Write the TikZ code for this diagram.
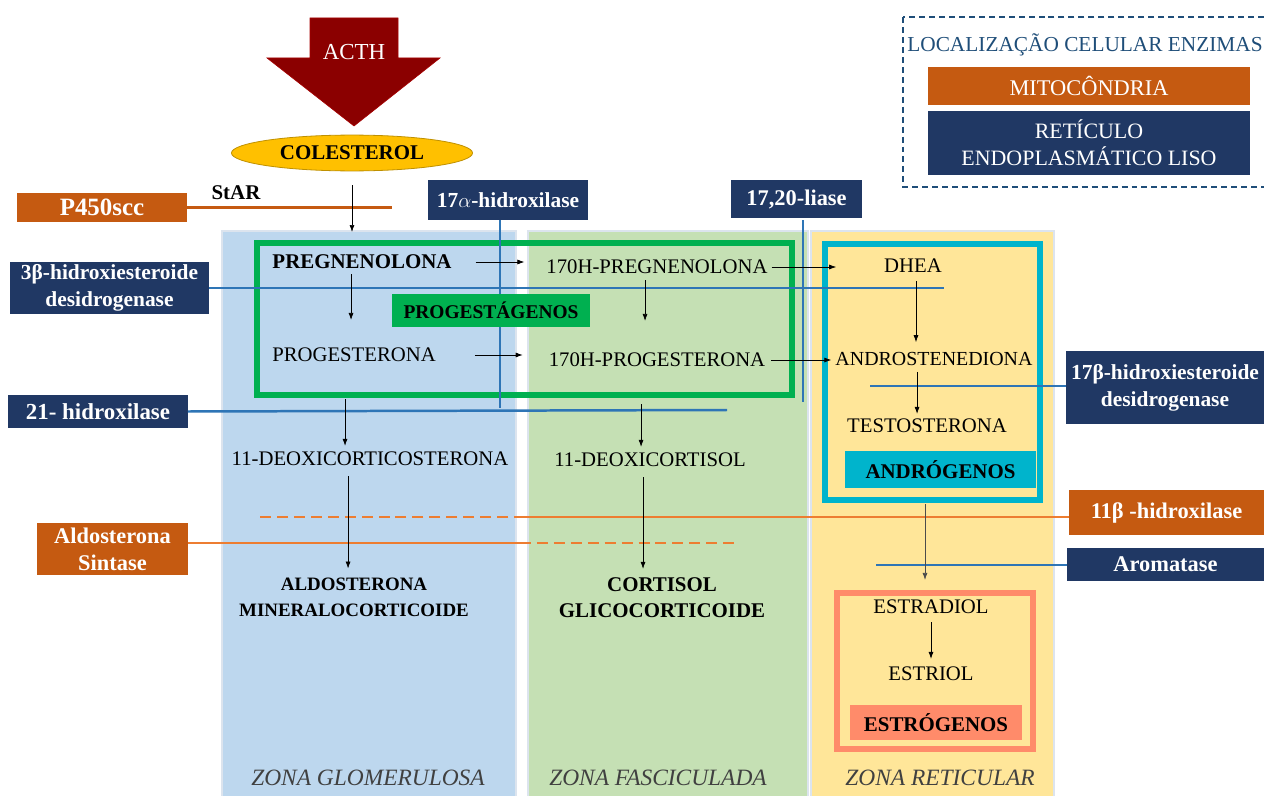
\documentclass[tikz,border=0pt]{standalone}
\usepackage{fontspec}
\setmainfont{Liberation Serif}
\usetikzlibrary{arrows.meta,shapes.geometric}

\definecolor{navyc}{HTML}{203864}
\definecolor{orgc}{HTML}{C55A11}
\definecolor{lineblue}{HTML}{2E75B6}
\definecolor{lineorange}{HTML}{ED7D31}
\definecolor{progc}{HTML}{00B050}
\definecolor{androc}{HTML}{00B4CC}
\definecolor{estroc}{HTML}{FF8B6A}
\definecolor{zoneblue}{HTML}{BDD7EE}
\definecolor{zonegreen}{HTML}{C5E0B4}
\definecolor{zoneyellow}{HTML}{FFE699}
\definecolor{zoneedge}{HTML}{DCE4EE}
\definecolor{acthred}{HTML}{8B0000}
\definecolor{gold}{HTML}{FFC000}
\definecolor{legendc}{HTML}{1F4E79}
\definecolor{zonetext}{HTML}{404040}

\tikzset{
  enz/.style={rectangle, fill=navyc, text=white, inner sep=0pt, align=center,
    font=\fontsize{21.5}{27}\selectfont\bfseries},
  mito/.style={enz, fill=orgc},
  hor/.style={inner sep=2pt, text=black, align=center,
    font=\fontsize{20.8}{24}\selectfont},
  horb/.style={hor, font=\fontsize{20}{26}\selectfont\bfseries},
  arr/.style={-{Latex[length=7pt,width=5pt]}, line width=0.7pt, draw=black},
  bline/.style={draw=lineblue, line width=2.5pt},
  oline/.style={draw=lineorange, line width=2.5pt},
  odash/.style={oline, dash pattern=on 11pt off 6pt},
  tag/.style={rectangle, inner sep=0pt, text=black,
    font=\fontsize{21}{24}\selectfont\bfseries},
  zonelab/.style={text=zonetext, font=\fontsize{23.5}{26}\selectfont\itshape},
  zone/.style={draw=zoneedge, line width=1.5pt}
}

\begin{document}
\begin{tikzpicture}[x=1bp,y=-1bp]
\useasboundingbox (0,0) rectangle (1264,796);

% adrenal cortex zones
\filldraw[zone, fill=zoneblue]   (222,231) rectangle (516,800);
\filldraw[zone, fill=zonegreen]  (528,231) rectangle (808,800);
\filldraw[zone, fill=zoneyellow] (811,231) rectangle (1054,800);

% hormone-class frames
\draw[progc, line width=6pt]  (257,243) rectangle (792,395);
\draw[androc, line width=6pt] (825,244) rectangle (1040,500);
\draw[estroc, line width=6pt] (837,593) rectangle (1033,749);
\coordinate (androbot) at (925,504);

% ACTH stimulus arrow
\filldraw[fill=acthred, draw=red!65!black, line width=0.6pt]
  (310,18) -- (398,18) -- (398,58) -- (440,58) -- (354,126) -- (267,58) -- (310,58) -- cycle;
\node[text=white, font=\fontsize{23}{26}\selectfont] (acth) at (354,52) {ACTH};

\node[ellipse, fill=gold, draw=gold!75!black, line width=0.8pt,
  minimum width=242, minimum height=36, inner sep=0pt,
  font=\fontsize{21}{24}\selectfont\bfseries] (col) at (352,153) {COLESTEROL};

% steroids
\node[horb, font=\fontsize{21}{24}\selectfont\bfseries] (preg) at (362,262) {PREGNENOLONA};
\node[hor]  (ohpreg) at (657,267) {170H-PREGNENOLONA};
\node[hor]  (dhea)   at (913,266) {DHEA};
\node[hor]  (prog)   at (354,355) {PROGESTERONA};
\node[hor]  (ohprog) at (657,360) {170H-PROGESTERONA};
\node[hor, font=\fontsize{20}{24}\selectfont] (andro) at (934,359) {ANDROSTENEDIONA};
\node[hor]  (testo)  at (927,426) {TESTOSTERONA};
\node[hor]  (doc)    at (370,459) {11-DEOXICORTICOSTERONA};
\node[hor]  (dcort)  at (650,460) {11-DEOXICORTISOL};
\node[horb, font=\fontsize{19}{26}\selectfont\bfseries] (aldo) at (354,597) {ALDOSTERONA\\MINERALOCORTICOIDE};
\node[horb, font=\fontsize{21}{26}\selectfont\bfseries] (cort) at (662,598) {CORTISOL\\GLICOCORTICOIDE};
\node[hor]  (estrad) at (931,607) {ESTRADIOL};
\node[hor]  (estri)  at (931,674) {ESTRIOL};

% enzyme boxes
\node[mito, minimum width=170, minimum height=29,
  font=\fontsize{25}{27}\selectfont\bfseries] (p450) at (102,207.5) {P450scc};
\node[font=\fontsize{21}{24}\selectfont\bfseries] (star) at (236,193) {StAR};
\node[enz, minimum width=160, minimum height=40] (h17a) at (508,200) {17$\alpha$-hidroxilase};
\node[enz, minimum width=131, minimum height=38, font=\fontsize{22.5}{27}\selectfont\bfseries] (l1720) at (796.5,199) {17,20-liase};
\node[enz, minimum width=199, minimum height=52] (hsd3) at (109.5,288) {3β-hidroxiesteroide\\desidrogenase};
\node[enz, minimum width=180, minimum height=33, font=\fontsize{23}{27}\selectfont\bfseries] (h21) at (98,411.5) {21- hidroxilase};
\node[enz, minimum width=198, minimum height=73] (hsd17) at (1165,387.5) {17β-hidroxiesteroide\\desidrogenase};
\node[mito, minimum width=195, minimum height=45,
  font=\fontsize{22.5}{27}\selectfont\bfseries] (h11) at (1166.5,512.5) {11β -hidroxilase};
\node[mito, minimum width=151, minimum height=52, font=\fontsize{22.5}{27}\selectfont\bfseries]
  (aldos) at (112.5,549) {Aldosterona\\Sintase};
\node[enz, minimum width=197, minimum height=33, font=\fontsize{22.5}{27}\selectfont\bfseries] (arom) at (1165.5,564.5) {Aromatase};

% free ends of the enzyme markers
\coordinate (p450end)  at (392,207.5);
\coordinate (h17aend)  at (500,408);
\coordinate (l1720end) at (803,402);
\coordinate (hsd3end)  at (944,288);
\coordinate (h21end)   at (727,410);
\coordinate (hsd17end) at (870,386);
\coordinate (h11mid)   at (525,517);
\coordinate (h11end)   at (260,517);
\coordinate (aldosmid) at (520,543);
\coordinate (aldosend) at (740,543);
\coordinate (aromend)  at (876,565);

% enzyme marker lines
\draw[bline] (h17a.south -| h17aend) -- (h17aend);
\draw[bline] (l1720.south -| l1720end) ++(0,2) -- (l1720end);
\draw[bline] (hsd3.east) -- (hsd3end);
\draw[bline] (h21.east) -- (h21end);
\draw[bline] (hsd17.west |- hsd17end) -- (hsd17end);
\draw[oline] (h11.west |- h11mid) -- (h11mid);
\draw[odash] (h11mid) -- (h11end);
\draw[oline] (aldos.east |- aldosmid) -- (aldosmid);
\draw[odash] (aldosmid) -- (aldosend);
\draw[bline] (arom.west |- aromend) -- (aromend);
\draw[draw=orgc, line width=2.5pt] ([xshift=-22pt]p450.east) -- (p450end);

% reaction arrows
\coordinate (colend) at (352,232);
\draw[arr, shorten <=14pt] (col.south) -- (colend);
\draw[arr, shorten <=22pt, shorten >=20pt] (preg.east) -- (preg.east -| ohpreg.west);
\draw[arr, shorten <=2pt, shorten >=46pt] (ohpreg.east) -- (ohpreg.east -| dhea.west);
\draw[arr, shorten <=3pt, shorten >=26pt] ([xshift=-11pt]preg.south) -- ([xshift=-11pt]preg.south |- prog.north);
\draw[arr, shorten <=4pt, shorten >=30pt] ([xshift=-12pt]ohpreg.south) -- ([xshift=-12pt]ohpreg.south |- ohprog.north);
\draw[arr, shorten <=37pt, shorten >=24pt] (prog.east) -- (prog.east -| ohprog.west);
\draw[arr, shorten <=4pt, shorten >=2pt] (ohprog.east) -- (ohprog.east -| andro.west);
\draw[arr, shorten <=6pt, shorten >=8pt] ([xshift=3pt]dhea.south) -- ([xshift=3pt]dhea.south |- andro.north);
\draw[arr, shorten <=4pt, shorten >=3pt] ([xshift=-17pt]andro.south) -- ([xshift=-17pt]andro.south |- testo.north);
\draw[arr, shorten <=35pt, shorten >=4pt] ([xshift=-9pt]prog.south) -- ([xshift=-9pt]prog.south |- doc.north);
\draw[arr, shorten <=35pt, shorten >=4pt] ([xshift=-16pt]ohprog.south) -- ([xshift=-16pt]ohprog.south |- dcort.north);
\draw[arr, shorten <=8pt, shorten >=7pt] ([xshift=-22pt]doc.south) -- ([xshift=-22pt]doc.south |- aldo.north);
\draw[arr, shorten <=8pt, shorten >=7pt] ([xshift=-7pt]dcort.south) -- ([xshift=-7pt]dcort.south |- cort.north);
\draw[arr, draw=black!70, shorten >=18pt] (androbot) -- (androbot |- estrad.north);
\draw[arr, shorten <=6pt, shorten >=6pt] (estrad.south) -- (estri.north);

% hormone-class tags
\node[tag, fill=progc, minimum width=198, minimum height=33, font=\fontsize{19.5}{24}\selectfont\bfseries] (progtag) at (491,310.5) {PROGESTÁGENOS};
\node[tag, fill=androc, minimum width=191, minimum height=37] (androtag) at (940.5,469.5) {ANDRÓGENOS};
\node[tag, fill=estroc, minimum width=172, minimum height=35] (estrotag) at (936,722.5) {ESTRÓGENOS};

% zone names
\node[zonelab] (zg) at (368,778) {ZONA GLOMERULOSA};
\node[zonelab] (zf) at (658,778) {ZONA FASCICULADA};
\node[zonelab] (zr) at (940,778) {ZONA RETICULAR};

% legend
\draw[legendc, line width=1.6pt, dash pattern=on 6pt off 4pt] (903,17) rectangle (1272,187);
\node[text=legendc, font=\fontsize{21.4}{24}\selectfont] (legt) at (1085,45) {LOCALIZAÇÃO CELULAR ENZIMAS};
\node[mito, minimum width=324, minimum height=38, font=\fontsize{22.5}{24}\selectfont] (legm) at (1089,86) {MITOCÔNDRIA};
\node[enz, minimum width=324, minimum height=64, font=\fontsize{22}{27}\selectfont] (legr) at (1089,143) {RETÍCULO\\ENDOPLASMÁTICO LISO};
\end{tikzpicture}
\end{document}
